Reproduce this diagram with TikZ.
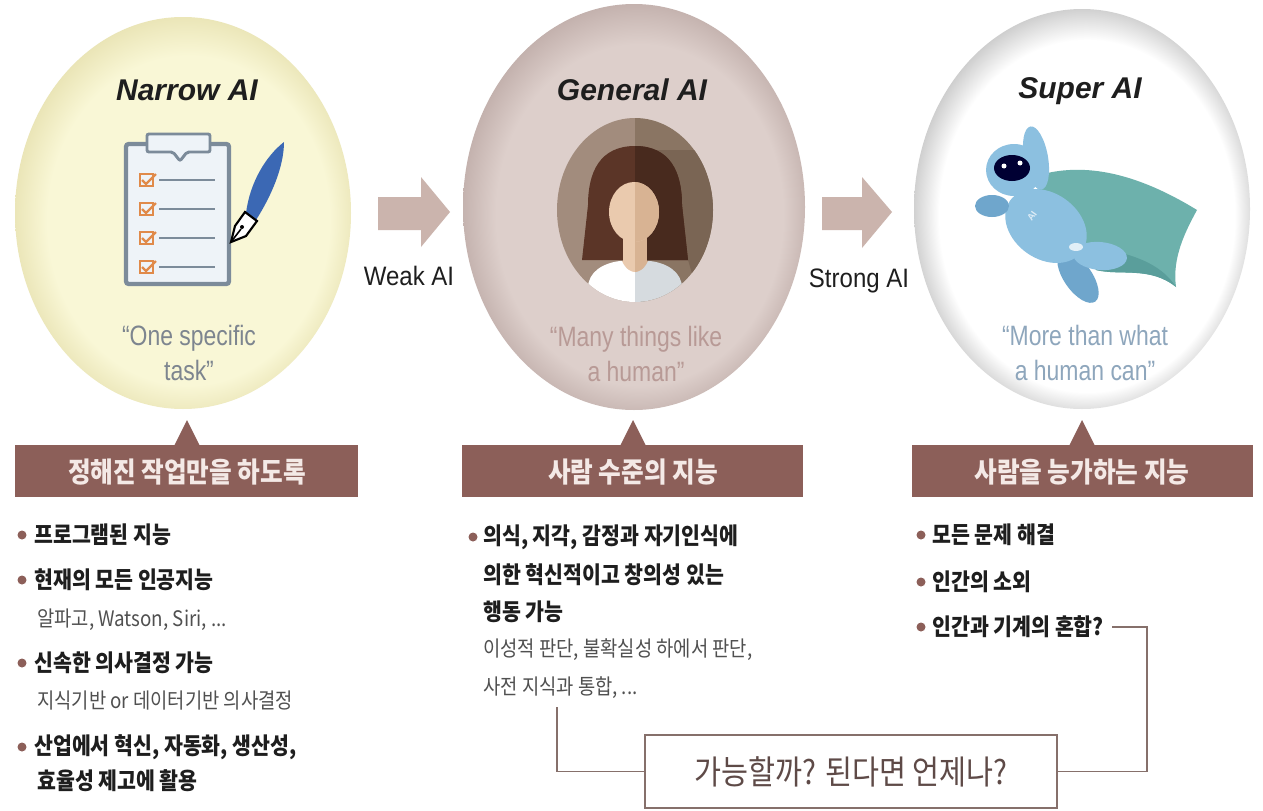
\documentclass[tikz,border=0pt]{standalone}
\usepackage{fontspec}
\setmainfont{Liberation Sans}
\newfontfamily\kr[FakeStretch=0.88]{Noto Sans CJK KR}
\newfontfamily\cond[FakeStretch=0.82]{Liberation Sans}
\newfontfamily\condw[FakeStretch=0.9]{Liberation Sans}
\definecolor{yIn}{HTML}{F9F7D6}
\definecolor{yOut}{HTML}{E6E0AE}
\definecolor{gIn}{HTML}{DDCFCB}
\definecolor{gOut}{HTML}{BCA9A5}
\definecolor{sIn}{HTML}{FFFFFF}
\definecolor{sOut}{HTML}{BDBDBD}
\definecolor{banc}{HTML}{8C5F59}
\definecolor{bantxt}{HTML}{F4E9E6}
\definecolor{arrc}{HTML}{CBB4AD}
\definecolor{linec}{HTML}{86706B}
\definecolor{darktxt}{HTML}{1E1E1E}
\definecolor{graytxt}{HTML}{505050}
\definecolor{boxtxt}{HTML}{5E4A47}
\definecolor{q1}{HTML}{7D858F}
\definecolor{q2}{HTML}{B89A96}
\definecolor{q3}{HTML}{8EA6BC}
\definecolor{clipg}{HTML}{7C8B9A}
\definecolor{clipf}{HTML}{EEF3F8}
\definecolor{chk}{HTML}{E08A4A}
\definecolor{penb}{HTML}{3B68B4}
\definecolor{avL}{HTML}{A28C7D}
\definecolor{avR}{HTML}{8A7563}
\definecolor{avS}{HTML}{7A6554}
\definecolor{hairL}{HTML}{5B3527}
\definecolor{hairR}{HTML}{482A1E}
\definecolor{faceL}{HTML}{EACAAE}
\definecolor{faceR}{HTML}{D8B393}
\definecolor{shirtR}{HTML}{D6DBDF}
\definecolor{robo}{HTML}{8CC0E0}
\definecolor{roboD}{HTML}{6FA6CC}
\definecolor{cape}{HTML}{6DB1AC}
\definecolor{capeD}{HTML}{5A9E9B}
\pgfdeclareradialshading{ballY}{\pgfpoint{2.5bp}{-3bp}}{color(0bp)=(yIn); color(21bp)=(yIn); color(27bp)=(yOut); color(31bp)=(yOut)}
\pgfdeclareradialshading{ballG}{\pgfpoint{2.5bp}{-3bp}}{color(0bp)=(gIn); color(21bp)=(gIn); color(27bp)=(gOut); color(31bp)=(gOut)}
\pgfdeclareradialshading{ballS}{\pgfpoint{2.5bp}{-3bp}}{color(0bp)=(sIn); color(22bp)=(sIn); color(27bp)=(sOut); color(31bp)=(sOut)}
\tikzset{
  title/.style={font=\fontsize{22.5}{26}\selectfont\bfseries\itshape, text=darktxt, anchor=base, inner sep=0},
  quote/.style={font=\cond\fontsize{21}{26.5}\selectfont, align=center, inner sep=0},
  tlabel/.style={font=\condw\fontsize{20}{24}\selectfont, text=darktxt, anchor=base, inner sep=0},
  banner/.style={fill=banc},
  bantext/.style={font=\kr\bfseries\fontsize{21}{26}\selectfont, text=bantxt, inner sep=0},
  bold/.style={font=\kr\bfseries\fontsize{17.5}{21}\selectfont, text=darktxt, anchor=west, inner sep=0},
  sub/.style={font=\kr\fontsize{16}{19}\selectfont, text=graytxt, anchor=west, inner sep=0},
  dot/.style={fill=banc},
  conn/.style={draw=linec, line width=1.3pt},
  arr/.style={fill=arrc}
}
\begin{document}
\begin{tikzpicture}[x=0.75pt,y=-0.75pt]
\useasboundingbox (0,0) rectangle (1263,810);
\fill[white] (0,0) rectangle (1263,810);

% ---------- circles ----------
\shade[shading=ballY] (183,213) ellipse (168 and 196);
\shade[shading=ballG] (634,207) ellipse (171 and 203);
\shade[shading=ballS] (1082,209) ellipse (168 and 200);

% ---------- titles ----------
\node[title] (t1) at (187,100) {Narrow AI};
\node[title] (t2) at (632,100) {General AI};
\node[title] (t3) at (1080,98) {Super AI};

% ---------- arrows ----------
\fill[arr] (378,197) -- (421,197) -- (421,177) -- (450,212) -- (421,247) -- (421,230) -- (378,230) -- cycle;
\fill[arr] (822,197) -- (862,197) -- (862,177) -- (892,212) -- (862,248) -- (862,230) -- (822,230) -- cycle;
\node[tlabel] (weak) at (409,285) {Weak AI};
\node[tlabel] (strong) at (859,287) {Strong AI};

% ---------- clipboard ----------
\draw[line width=3.2pt, draw=clipg, fill=clipf, rounded corners=2pt] (126,144) rectangle (229,284);
\draw[line width=2.2pt, draw=clipg, fill=clipf, rounded corners=1.5pt] (147,134) -- (210,134) -- (210,152) -- (187,152) -- (180,161) -- (173,152) -- (147,152) -- cycle;
\foreach \yy in {180,209,238,267}{
  \draw[chk, line width=1.6pt] (140,\yy-6) rectangle (153,\yy+6);
  \draw[chk, line width=1.6pt] (142,\yy) -- (146,\yy+4) -- (156,\yy-6);
  \draw[clipg, line width=2pt] (159,\yy) -- (215,\yy);
}
% pen
\fill[penb] (246,213) .. controls (250,182) and (266,156) .. (284,142) .. controls (284,166) and (272,195) .. (256,220) -- cycle;
\draw[line width=1.6pt, fill=white, draw=black] (245,212) -- (257,221) -- (246,236) -- (231,242) -- (235,226) -- cycle;
\draw[line width=1.2pt] (231,242) -- (241,229);
\fill[black] (242,227) circle (2);

% ---------- woman avatar ----------
\begin{scope}
\clip (635,210) ellipse (78 and 92);
\fill[avL] (550,110) rectangle (635,310);
\fill[avR] (635,110) rectangle (720,310);
\fill[avS] (655,150) -- (720,150) -- (720,300) -- (700,300) -- cycle;
% hair
\fill[hairL] (635,146) .. controls (600,146) and (588,172) .. (588,205) -- (582,260) -- (688,260) -- (682,205) .. controls (682,172) and (670,146) .. (635,146) -- cycle;
\begin{scope}
\clip (635,100) rectangle (720,320);
\fill[hairR] (635,146) .. controls (600,146) and (588,172) .. (588,205) -- (582,260) -- (688,260) -- (682,205) .. controls (682,172) and (670,146) .. (635,146) -- cycle;
\end{scope}
% neck
\fill[faceL] (623,236) rectangle (635,266);
\fill[faceR] (635,236) rectangle (647,266);
% face
\fill[faceL] (634,212) ellipse (25 and 30);
\begin{scope}
\clip (635,150) rectangle (700,260);
\fill[faceR] (634,212) ellipse (25 and 30);
\end{scope}
% shirt
\fill[white] (588,310) -- (588,288) .. controls (588,272) and (603,263) .. (620,261) -- (635,261) -- (635,310) -- cycle;
\fill[shirtR] (682,310) -- (682,288) .. controls (682,272) and (667,263) .. (650,261) -- (635,261) -- (635,310) -- cycle;
\fill[faceL] (622,261) .. controls (626,270) and (632,272) .. (635,272) -- (635,261) -- cycle;
\fill[faceR] (648,261) .. controls (644,270) and (638,272) .. (635,272) -- (635,261) -- cycle;
\end{scope}

% ---------- robot ----------
\fill[cape] (1030,178) .. controls (1080,160) and (1135,172) .. (1197,210) .. controls (1185,232) and (1172,258) .. (1176,287) .. controls (1150,266) and (1120,276) .. (1096,270) -- (1062,222) -- cycle;
\fill[capeD] (1096,270) .. controls (1120,276) and (1150,266) .. (1176,287) .. controls (1160,262) and (1130,255) .. (1110,250) -- cycle;
\fill[roboD, rotate around={-55:(1078,277)}] (1078,277) ellipse (30 and 14);
\fill[robo, rotate around={-5:(1100,256)}] (1100,256) ellipse (27 and 14);
\fill[robo, rotate around={-35:(1046,226)}] (1046,226) ellipse (44 and 33);
\fill[robo, rotate around={-80:(1036,158)}] (1036,158) ellipse (32 and 12);
\fill[robo] (1014,170) ellipse (28 and 26);
\fill[roboD] (992,206) ellipse (17 and 11);
\fill[white!75!robo] (1076,247) ellipse (7 and 4);
\fill[black!80!blue] (1012,168) ellipse (18 and 13);
\fill[white] (1004,166) circle (2.5);
\fill[white] (1020,163) circle (2.5);
\node[font=\fontsize{7}{8}\selectfont\bfseries, text=white!70!robo, rotate=55, inner sep=0] (ai) at (1032,216) {AI};

% ---------- quotes ----------
\node[quote, text=q1] (qt1) at (189,353) {“One specific\\task”};
\node[quote, text=q2] (qt2) at (636,354) {“Many things like\\a human”};
\node[quote, text=q3] (qt3) at (1085,353) {“More than what\\a human can”};

% ---------- banners ----------
\fill[banner] (15,445) rectangle (358,497);
\fill[banner] (174,446) -- (187,420) -- (200,446) -- cycle;
\node[bantext] (b1) at (187,472) {정해진 작업만을 하도록};
\fill[banner] (462,445) rectangle (803,497);
\fill[banner] (620,446) -- (633,420) -- (646,446) -- cycle;
\node[bantext] (b2) at (633,472) {사람 수준의 지능};
\fill[banner] (912,445) rectangle (1253,497);
\fill[banner] (1069,446) -- (1082,420) -- (1095,446) -- cycle;
\node[bantext] (b3) at (1082,472) {사람을 능가하는 지능};

% ---------- left list ----------
\fill[dot] (22,535) circle (4.5);
\node[bold] (l1) at (34,535) {프로그램된 지능};
\fill[dot] (22,580) circle (4.5);
\node[bold] (l2) at (34,580) {현재의 모든 인공지능};
\node[sub] (l2s) at (37,620) {알파고, Watson, Siri, ...};
\fill[dot] (22,663) circle (4.5);
\node[bold] (l3) at (34,663) {신속한 의사결정 가능};
\node[sub] (l3s) at (37,701) {지식기반 or 데이터기반 의사결정};
\fill[dot] (22,747) circle (4.5);
\node[bold] (l4) at (34,747) {산업에서 혁신, 자동화, 생산성,};
\node[bold] (l4b) at (37,781) {효율성 제고에 활용};

% ---------- middle list ----------
\fill[dot] (473,537) circle (4.5);
\node[bold] (m1) at (483,537) {의식, 지각, 감정과 자기인식에};
\node[bold] (m1b) at (483,575) {의한 혁신적이고 창의성 있는};
\node[bold] (m1c) at (483,612) {행동 가능};
\node[sub] (m1s) at (483,650) {이성적 판단, 불확실성 하에서 판단,};
\node[sub] (m1t) at (483,688) {사전 지식과 통합, ...};

% ---------- right list ----------
\fill[dot] (921,535) circle (4.5);
\node[bold] (r1) at (932,535) {모든 문제 해결};
\fill[dot] (921,582) circle (4.5);
\node[bold] (r2) at (932,582) {인간의 소외};
\fill[dot] (921,627) circle (4.5);
\node[bold] (r3) at (932,627) {인간과 기계의 혼합?};

% ---------- question box ----------
\node[draw=linec, line width=1.3pt, fill=white, minimum width=412*0.75pt, minimum height=73*0.75pt, inner sep=0,
      font=\kr\fontsize{25}{30}\selectfont, text=boxtxt] (q) at (851,771.5) {가능할까? 된다면 언제나?};
\coordinate (c1) at (557,707);
\draw[conn] (c1) |- (q.west);
\draw[conn] ([xshift=6pt]r3.east) -- (1147,627) |- (q.east);
\end{tikzpicture}
\end{document}
